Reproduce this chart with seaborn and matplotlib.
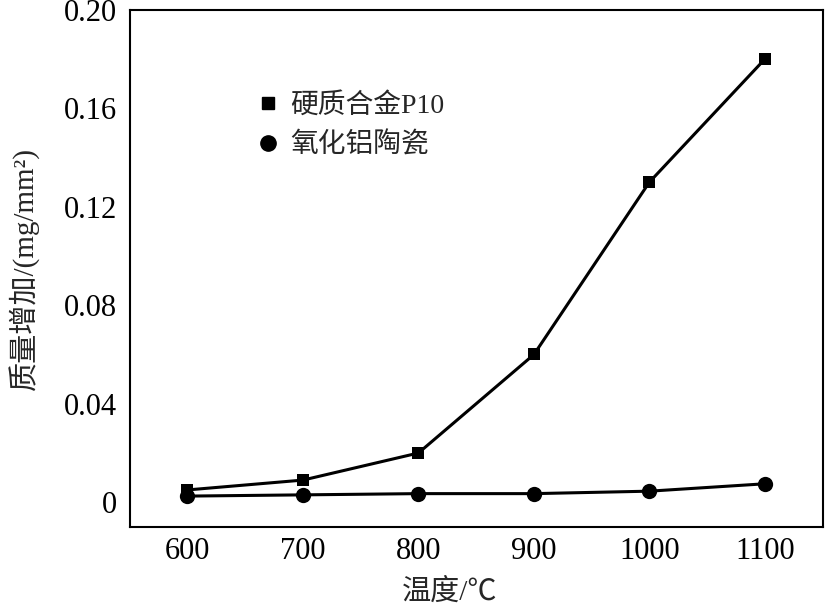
import numpy as np
import pandas as pd
import matplotlib
matplotlib.use('Agg')
import matplotlib.pyplot as plt
from matplotlib.lines import Line2D
import seaborn as sns

# data
temps = [600, 700, 800, 900, 1000, 1100]
gain_p10 = [0.005, 0.009, 0.020, 0.060, 0.130, 0.180]
gain_al2o3 = [0.0025, 0.003, 0.0035, 0.0035, 0.0045, 0.0075]
series_names = ['硬质合金P10', '氧化铝陶瓷']
x_ticks = [600, 700, 800, 900, 1000, 1100]
y_ticks = [0, 0.04, 0.08, 0.12, 0.16, 0.20]
y_tick_labels = ['0', '0.04', '0.08', '0.12', '0.16', '0.20']

df = pd.DataFrame({
    'temp': temps * 2,
    'gain': gain_p10 + gain_al2o3,
    'material': [series_names[0]] * len(temps) + [series_names[1]] * len(temps),
})

sns.set_style('white')
plt.rcParams['font.family'] = ['Liberation Serif', 'Noto Sans CJK SC', 'DejaVu Sans']

fig = plt.figure(figsize=(8.26, 6.07), dpi=100)
ax = fig.add_axes([0.157, 0.132, 0.839, 0.852])

markers = {series_names[0]: 's', series_names[1]: 'o'}
sizes = {series_names[0]: 9, series_names[1]: 11}
for name in series_names:
    sub = df[df['material'] == name]
    sns.lineplot(data=sub, x='temp', y='gain', color='black', marker=markers[name],
                 markersize=sizes[name], markeredgewidth=0, linewidth=2.2,
                 ax=ax, legend=False)

ax.set_xlim(550, 1150)
ax.set_ylim(-0.01, 0.20)
ax.set_xticks(x_ticks)
ax.set_yticks(y_ticks)
ax.set_yticklabels(y_tick_labels)
ax.tick_params(axis='both', direction='in', length=7, width=1, labelsize=22,
               colors='black', top=False, right=False)
ax.tick_params(axis='x', pad=7)
ax.tick_params(axis='y', pad=9)
for sp in ax.spines.values():
    sp.set_visible(True)
    sp.set_color('black')
    sp.set_linewidth(1.5)

ax.set_xlabel('温度/℃', fontsize=21)
ax.set_ylabel('质量增加/(mg/mm²)', fontsize=21)
ax.xaxis.set_label_coords(0.462, -0.1)
ax.yaxis.set_label_coords(-0.13, 0.5)

handles = [Line2D([], [], color='black', marker='s', linestyle='none', markersize=8),
           Line2D([], [], color='black', marker='o', linestyle='none', markersize=11)]
ax.legend(handles, series_names, loc='upper left', bbox_to_anchor=(0.143, 0.887),
          frameon=False, fontsize=20, handletextpad=0.3, labelspacing=0.5,
          handlelength=1.0)

fig.savefig('out.png', dpi=100)
